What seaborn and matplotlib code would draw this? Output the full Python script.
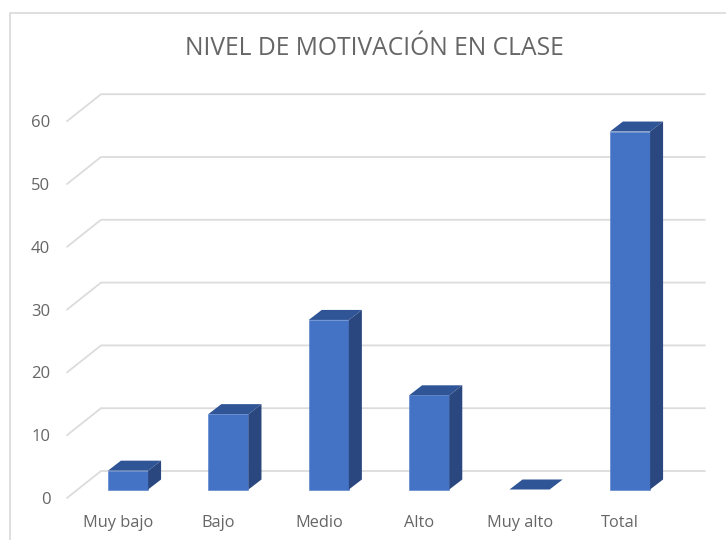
import pandas as pd
import seaborn as sns
import matplotlib.pyplot as plt
from matplotlib.lines import Line2D
from matplotlib.patches import Polygon
from matplotlib.transforms import ScaledTranslation

categories = ['Muy bajo', 'Bajo', 'Medio', 'Alto', 'Muy alto', 'Total']
values = [3, 12, 27, 15, 0, 57]
y_ticks = [0, 10, 20, 30, 40, 50, 60]

front_color = '#4472C4'
top_color = '#2F5597'
side_color = '#2A4780'
grid_color = '#DCDCDC'
text_color = '#666666'

sns.set_theme(style='white')
plt.rcParams['font.family'] = ['Open Sans', 'DejaVu Sans']

W, H = 726, 540
fig = plt.figure(figsize=(W / 100, H / 100), dpi=100)
# axes runs along the front edge of the floor, pixel positions from the reference
ax = fig.add_axes([67 / W, (H - 498) / H, (705 - 67) / W, 376.8 / H])

df = pd.DataFrame({'nivel': categories, 'n': values})
sns.barplot(data=df, x='nivel', y='n', color=front_color, saturation=1, width=0.4, ax=ax)

ax.set_xlim((67 - 128) / 100.4, (705 - 128) / 100.4)
ax.set_ylim(0, 60)

# px to data
ux = 100.4
uy = 6.28
lift = 8.5 / uy
dx, dy = 13 / ux, 10 / uy
wall_x, wall_y = 34 / ux, 27 / uy

# fake 3d grid, floor edge then back wall
x0 = ax.get_xlim()[0]
x1 = ax.get_xlim()[1]
for t in y_ticks:
    ax.plot([x0, x0 + wall_x, x1], [t, t + wall_y, t + wall_y], color=grid_color,
            lw=1.3, zorder=0, clip_on=False, solid_joinstyle='miter')

# lift the bars off the floor edge and add top and side faces
for p in list(ax.patches):
    p.set_y(lift)
    p.set_zorder(3)
    p.set_edgecolor('#4F7CCB')
    p.set_linewidth(0.4)
    left = p.get_x()
    right = left + p.get_width()
    bottom = lift
    top = lift + p.get_height()
    ax.add_patch(Polygon([(left, top), (right, top), (right + dx, top + dy), (left + dx, top + dy)],
                         closed=True, facecolor=top_color, edgecolor='none', zorder=3, clip_on=False))
    if p.get_height() > 0:
        ax.add_patch(Polygon([(right, bottom), (right + dx, bottom + dy), (right + dx, top + dy), (right, top)],
                             closed=True, facecolor=side_color, edgecolor='none', zorder=3, clip_on=False))
    else:
        p.set_visible(False)

sns.despine(ax=ax, left=True, bottom=True)
ax.set_xlabel('')
ax.set_ylabel('')
ax.set_yticks(y_ticks)
ax.tick_params(axis='y', length=0, pad=12, labelsize=12, labelcolor=text_color)
ax.tick_params(axis='x', length=0, pad=12, labelsize=11.8, labelcolor=text_color)
for lab in ax.get_xticklabels():
    lab.set_transform(lab.get_transform() + ScaledTranslation(-10 / 100, 0, fig.dpi_scale_trans))

fig.text(374.5 / W, 1 - 48.5 / H, 'NIVEL DE MOTIVACIÓN EN CLASE', ha='center', va='center',
         fontsize=17.7, color=text_color)

# chart frame, only top and left show
fig.add_artist(Line2D([9.5 / W, 9.5 / W, 1], [0, 1 - 13 / H, 1 - 13 / H], color=grid_color, lw=1.3))

plt.savefig('out.png', dpi=100)
plt.close()
